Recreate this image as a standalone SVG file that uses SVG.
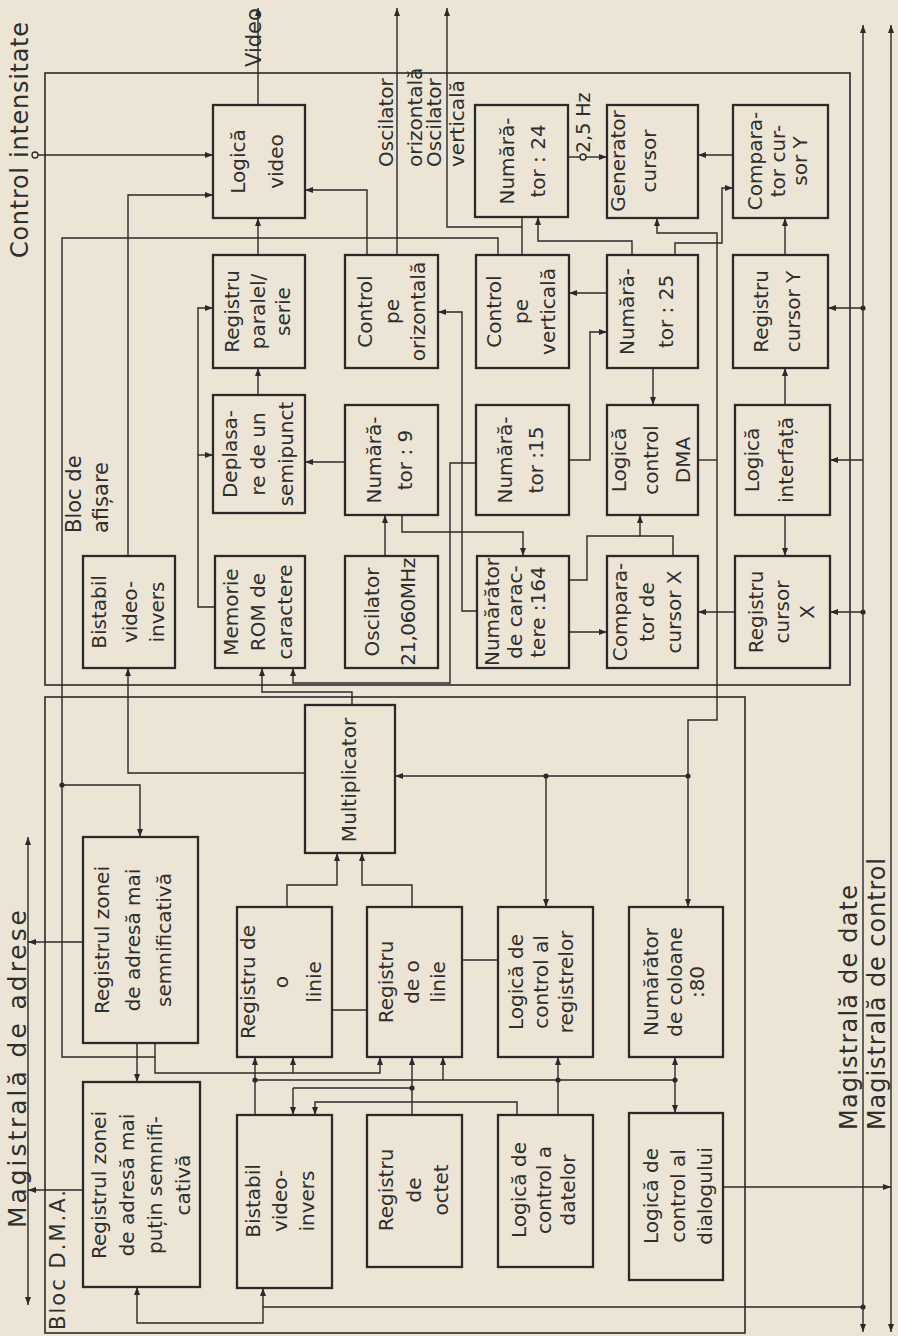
<svg xmlns="http://www.w3.org/2000/svg" width="898" height="1336" viewBox="0 0 898 1336">
<defs>
<style>
.bx{fill:none;stroke:#2a2a2a;stroke-width:2.3}
.t{font-family:"DejaVu Sans","Liberation Sans",sans-serif;font-size:20px;fill:#2e2e2e;text-anchor:middle}
.l{font-family:"DejaVu Sans","Liberation Sans",sans-serif;fill:#2e2e2e;text-anchor:start}
.dot{fill:#2a2a2a;stroke:none}
</style>
<marker id="a" viewBox="0 0 8 6" refX="8" refY="3" markerWidth="8" markerHeight="6" markerUnits="userSpaceOnUse" orient="auto"><path d="M0,0 L8,3 L0,6 z" fill="#2a2a2a"/></marker>
<marker id="as" viewBox="0 0 8 6" refX="8" refY="3" markerWidth="8" markerHeight="6" markerUnits="userSpaceOnUse" orient="auto-start-reverse"><path d="M0,0 L8,3 L0,6 z" fill="#2a2a2a"/></marker>
</defs>
<rect width="898" height="1336" fill="#ece5d5"/>

<!-- enclosures -->
<g id="enclosures" fill="none" stroke="#2a2a2a" stroke-width="1.6">
<rect x="45" y="73" width="805" height="612"/>
<rect x="45" y="697" width="700" height="636"/>
</g>

<!-- labels -->
<g id="labels">
<text class="l" font-size="24" transform="translate(28,258) rotate(-90)" textLength="236">Control intensitate</text>
<circle cx="35" cy="155" r="3" fill="#ece5d5" stroke="#2a2a2a" stroke-width="1.3"/>
<text class="l" font-size="21" transform="translate(261,67) rotate(-90)">Video</text>
<text class="l" font-size="20" transform="translate(393,167) rotate(-90)">Oscilator</text>
<text class="l" font-size="20" transform="translate(422,167) rotate(-90)">orizontală</text>
<text class="l" font-size="20" transform="translate(441,167) rotate(-90)">Oscilator</text>
<text class="l" font-size="20" transform="translate(464,167) rotate(-90)">verticală</text>
<text class="l" font-size="19" transform="translate(590,153) rotate(-90)">2,5 Hz</text>
<text class="l" font-size="21" transform="translate(81,533) rotate(-90)">Bloc de</text>
<text class="l" font-size="21" transform="translate(108,533) rotate(-90)">afișare</text>
<text class="l" font-size="21" transform="translate(65,1330) rotate(-90)" textLength="140">Bloc D.M.A.</text>
<text class="l" font-size="25" transform="translate(26,1228) rotate(-90)" textLength="318">Magistrală de adrese</text>
<text class="l" font-size="24" transform="translate(857,1130) rotate(-90)" textLength="245">Magistrală de date</text>
<text class="l" font-size="24" transform="translate(885,1130) rotate(-90)" textLength="272">Magistrală de control</text>
</g>

<!-- display block nodes -->
<g id="logica-video"><rect class="bx" x="213" y="105" width="92" height="113"/><text class="t" transform="translate(245,161.5) rotate(-90)"><tspan x="0" y="0">Logică</tspan><tspan x="0" y="38">video</tspan></text></g>
<g id="numarator-24"><rect class="bx" x="475" y="105" width="93" height="112"/><text class="t" transform="translate(514,161) rotate(-90)"><tspan x="0" y="0">Numără-</tspan><tspan x="0" y="31">tor : 24</tspan></text></g>
<g id="generator-cursor"><rect class="bx" x="607" y="105" width="91" height="113"/><text class="t" transform="translate(625,161) rotate(-90)"><tspan x="0" y="0">Generator</tspan><tspan x="0" y="31">cursor</tspan></text></g>
<g id="comparator-y"><rect class="bx" x="733" y="105" width="95" height="113"/><text class="t" transform="translate(762,161) rotate(-90)"><tspan x="0" y="0">Compara-</tspan><tspan x="0" y="22.5">tor cur-</tspan><tspan x="0" y="45">sor Y</tspan></text></g>

<g id="registru-paralel"><rect class="bx" x="213" y="255" width="92" height="113"/><text class="t" transform="translate(239,311.5) rotate(-90)"><tspan x="0" y="0">Registru</tspan><tspan x="0" y="25.5">paralel/</tspan><tspan x="0" y="51">serie</tspan></text></g>
<g id="control-orizontala"><rect class="bx" x="345" y="255" width="93" height="113"/><text class="t" transform="translate(372,311.5) rotate(-90)"><tspan x="0" y="0">Control</tspan><tspan x="0" y="26.5">pe</tspan><tspan x="0" y="53">orizontală</tspan></text></g>
<g id="control-verticala"><rect class="bx" x="476" y="255" width="93" height="113"/><text class="t" transform="translate(501,311.5) rotate(-90)"><tspan x="0" y="0">Control</tspan><tspan x="0" y="27">pe</tspan><tspan x="0" y="54">verticală</tspan></text></g>
<g id="numarator-25"><rect class="bx" x="607" y="255" width="91" height="113"/><text class="t" transform="translate(634,311.5) rotate(-90)"><tspan x="0" y="0">Numără-</tspan><tspan x="0" y="39">tor : 25</tspan></text></g>
<g id="registru-cursor-y"><rect class="bx" x="733" y="255" width="95" height="113"/><text class="t" transform="translate(768,311.5) rotate(-90)"><tspan x="0" y="0">Registru</tspan><tspan x="0" y="32">cursor Y</tspan></text></g>

<g id="deplasare"><rect class="bx" x="213" y="395" width="92" height="118"/><text class="t" transform="translate(237,454) rotate(-90)"><tspan x="0" y="0">Deplasa-</tspan><tspan x="0" y="28">re de un</tspan><tspan x="0" y="56">semipunct</tspan></text></g>
<g id="numarator-9"><rect class="bx" x="345" y="405" width="93" height="110"/><text class="t" transform="translate(381,460) rotate(-90)"><tspan x="0" y="0">Numără-</tspan><tspan x="0" y="31">tor : 9</tspan></text></g>
<g id="numarator-15"><rect class="bx" x="476" y="405" width="93" height="110"/><text class="t" transform="translate(512,460) rotate(-90)"><tspan x="0" y="0">Numără-</tspan><tspan x="0" y="31">tor :15</tspan></text></g>
<g id="logica-dma"><rect class="bx" x="607" y="405" width="91" height="110"/><text class="t" transform="translate(626,460) rotate(-90)"><tspan x="0" y="0">Logică</tspan><tspan x="0" y="32">control</tspan><tspan x="0" y="64">DMA</tspan></text></g>
<g id="logica-interfata"><rect class="bx" x="735" y="405" width="95" height="110"/><text class="t" transform="translate(759,460) rotate(-90)"><tspan x="0" y="0">Logică</tspan><tspan x="0" y="34">interfață</tspan></text></g>

<g id="bistabil-1"><rect class="bx" x="83" y="556" width="92" height="112"/><text class="t" transform="translate(106,612) rotate(-90)"><tspan x="0" y="0">Bistabil</tspan><tspan x="0" y="31">video-</tspan><tspan x="0" y="58">invers</tspan></text></g>
<g id="memorie-rom"><rect class="bx" x="215" y="556" width="90" height="112"/><text class="t" transform="translate(238,612) rotate(-90)"><tspan x="0" y="0">Memorie</tspan><tspan x="0" y="27">ROM de</tspan><tspan x="0" y="54">caractere</tspan></text></g>
<g id="oscilator"><rect class="bx" x="345" y="556" width="93" height="112"/><text class="t" transform="translate(379,612) rotate(-90)"><tspan x="0" y="0">Oscilator</tspan><tspan x="0" y="36" letter-spacing="-0.6">21,060MHz</tspan></text></g>
<g id="numarator-caractere"><rect class="bx" x="477" y="556" width="92" height="112"/><text class="t" transform="translate(499,612) rotate(-90)"><tspan x="0" y="0">Numărător</tspan><tspan x="0" y="23">de carac-</tspan><tspan x="0" y="46">tere :164</tspan></text></g>
<g id="comparator-x"><rect class="bx" x="607" y="556" width="91" height="112"/><text class="t" transform="translate(627,612) rotate(-90)"><tspan x="0" y="0">Compara-</tspan><tspan x="0" y="27">tor de</tspan><tspan x="0" y="54">cursor X</tspan></text></g>
<g id="registru-cursor-x"><rect class="bx" x="735" y="556" width="95" height="112"/><text class="t" transform="translate(763,612) rotate(-90)"><tspan x="0" y="0">Registru</tspan><tspan x="0" y="26">cursor</tspan><tspan x="0" y="51">X</tspan></text></g>

<!-- DMA block nodes -->
<g id="multiplicator"><rect class="bx" x="305" y="705" width="90" height="148"/><text class="t" transform="translate(356,780) rotate(-90)">Multiplicator</text></g>
<g id="registrul-mai-semnificativa"><rect class="bx" x="83" y="837" width="115" height="206"/><text class="t" transform="translate(109,940) rotate(-90)"><tspan x="0" y="0">Registrul zonei</tspan><tspan x="0" y="31">de adresă mai</tspan><tspan x="0" y="62">semnificativă</tspan></text></g>
<g id="registrul-putin-semnificativa"><rect class="bx" x="83" y="1082" width="117" height="205"/><text class="t" transform="translate(106,1185) rotate(-90)"><tspan x="0" y="0">Registrul zonei</tspan><tspan x="0" y="28">de adresă mai</tspan><tspan x="0" y="56">puțin semnifi-</tspan><tspan x="0" y="84">cativă</tspan></text></g>
<g id="registru-linie-1"><rect class="bx" x="237" y="907" width="95" height="150"/><text class="t" transform="translate(255,982) rotate(-90)"><tspan x="0" y="0">Registru de</tspan><tspan x="0" y="33">o</tspan><tspan x="0" y="66">linie</tspan></text></g>
<g id="bistabil-2"><rect class="bx" x="237" y="1115" width="95" height="173"/><text class="t" transform="translate(260,1201) rotate(-90)"><tspan x="0" y="0">Bistabil</tspan><tspan x="0" y="27">video-</tspan><tspan x="0" y="54">invers</tspan></text></g>
<g id="registru-linie-2"><rect class="bx" x="367" y="907" width="95" height="150"/><text class="t" transform="translate(393,982) rotate(-90)"><tspan x="0" y="0">Registru</tspan><tspan x="0" y="26">de o</tspan><tspan x="0" y="52">linie</tspan></text></g>
<g id="registru-octet"><rect class="bx" x="367" y="1115" width="95" height="152"/><text class="t" transform="translate(393,1190) rotate(-90)"><tspan x="0" y="0">Registru</tspan><tspan x="0" y="27.5">de</tspan><tspan x="0" y="55">octet</tspan></text></g>
<g id="logica-registre"><rect class="bx" x="498" y="907" width="95" height="150"/><text class="t" transform="translate(523,982) rotate(-90)"><tspan x="0" y="0">Logică de</tspan><tspan x="0" y="25">control al</tspan><tspan x="0" y="50">registrelor</tspan></text></g>
<g id="logica-date"><rect class="bx" x="498" y="1115" width="95" height="152"/><text class="t" transform="translate(526,1190) rotate(-90)"><tspan x="0" y="0">Logică de</tspan><tspan x="0" y="24.5">control a</tspan><tspan x="0" y="49">datelor</tspan></text></g>
<g id="numarator-coloane"><rect class="bx" x="629" y="907" width="94" height="150"/><text class="t" transform="translate(658,982) rotate(-90)"><tspan x="0" y="0">Numărător</tspan><tspan x="0" y="24">de coloane</tspan><tspan x="0" y="46">:80</tspan></text></g>
<g id="logica-dialog"><rect class="bx" x="629" y="1113" width="94" height="167"/><text class="t" transform="translate(658,1196) rotate(-90)"><tspan x="0" y="0">Logică de</tspan><tspan x="0" y="27">control al</tspan><tspan x="0" y="54">dialogului</tspan></text></g>

<!-- connectors -->
<g id="connectors" fill="none" stroke="#2a2a2a" stroke-width="1.4">
<path d="M28,837 V1305" marker-start="url(#as)" marker-end="url(#a)"/>
<path d="M863,25 V1332" marker-start="url(#as)" marker-end="url(#a)"/>
<path d="M891,25 V1332" marker-start="url(#as)" marker-end="url(#a)"/>
<path d="M38,155 H213" marker-end="url(#a)"/>
<path d="M258,105 V8" marker-end="url(#a)"/>
<path d="M128,556 V195 H213" marker-end="url(#a)"/>
<path d="M305,773 H128 V668" marker-end="url(#a)"/>
<path d="M688,776 H395" marker-end="url(#a)"/>
<path d="M546,776 V907" marker-end="url(#a)"/>
<path d="M657,218 V233 H717 V720 H688 V907" marker-start="url(#as)" marker-end="url(#a)"/>
<path d="M258,255 V218" marker-end="url(#a)"/>
<path d="M258,395 V368" marker-end="url(#a)"/>
<path d="M215,607 H198 V308 H213" marker-end="url(#a)"/>
<path d="M198,455 H213" marker-end="url(#a)"/>
<path d="M498,255 V238 H62 V1057 H155"/>
<path d="M62,785 H140 V837" marker-end="url(#a)"/>
<path d="M367,255 V190 H305" marker-end="url(#a)"/>
<path d="M397,255 V8" marker-end="url(#a)"/>
<path d="M522,217 V255"/>
<path d="M522,227 H447 V8" marker-end="url(#a)"/>
<path d="M632,255 V241 H538 V217" marker-end="url(#a)"/>
<path d="M568,157 H580"/>
<path d="M586,157 H607" marker-end="url(#a)"/>
<path d="M733,155 H698" marker-end="url(#a)"/>
<path d="M675,255 V243 H722 V188 H733" marker-end="url(#a)"/>
<path d="M785,255 V218" marker-end="url(#a)"/>
<path d="M785,405 V368" marker-end="url(#a)"/>
<path d="M863,308 H828" marker-end="url(#a)"/>
<path d="M477,611 H462 V312 H438" marker-end="url(#a)"/>
<path d="M477,463 H450 V683 H293 V668" marker-end="url(#a)"/>
<path d="M352,705 V692 H262 V668" marker-end="url(#a)"/>
<path d="M345,462 H305" marker-end="url(#a)"/>
<path d="M385,556 V515" marker-end="url(#a)"/>
<path d="M402,515 V532 H523 V556" marker-end="url(#a)"/>
<path d="M569,460 H590 V332 H607" marker-end="url(#a)"/>
<path d="M607,293 H569" marker-end="url(#a)"/>
<path d="M653,368 V405" marker-end="url(#a)"/>
<path d="M698,460 H717"/>
<path d="M673,556 V536 H640 V515" marker-end="url(#a)"/>
<path d="M569,580 H587 V536 H640"/>
<path d="M569,632 H607" marker-end="url(#a)"/>
<path d="M735,612 H698" marker-end="url(#a)"/>
<path d="M863,612 H830" marker-end="url(#a)"/>
<path d="M785,515 V556" marker-end="url(#a)"/>
<path d="M863,460 H830" marker-end="url(#a)"/>
<path d="M83,942 H28" marker-end="url(#a)"/>
<path d="M83,1190 H28" marker-end="url(#a)"/>
<path d="M137,1043 V1082" marker-end="url(#a)"/>
<path d="M155,1043 V1073 H380 V1057" marker-end="url(#a)"/>
<path d="M293,1073 V1057" marker-end="url(#a)"/>
<path d="M255,1115 V1057" marker-end="url(#a)"/>
<path d="M255,1080 H675"/>
<path d="M443,1080 V1057" marker-end="url(#a)"/>
<path d="M558,1115 V1057" marker-end="url(#a)"/>
<path d="M675,1080 V1057" marker-end="url(#a)"/>
<path d="M675,1080 V1113" marker-end="url(#a)"/>
<path d="M293,1088 H412"/>
<path d="M293,1088 V1115" marker-end="url(#a)"/>
<path d="M412,1115 V1057" marker-end="url(#a)"/>
<path d="M517,1115 V1102 H315 V1115" marker-end="url(#a)"/>
<path d="M332,1010 H367"/>
<path d="M462,960 H498"/>
<path d="M723,1187 H891" marker-end="url(#a)"/>
<path d="M863,1307 H263 V1288" marker-end="url(#a)"/>
<path d="M263,1307 V1323 H137 V1287" marker-end="url(#a)"/>
<path d="M287,907 V885 H337 V853" marker-end="url(#a)"/>
<path d="M412,907 V885 H362 V853" marker-end="url(#a)"/>
<circle cx="583" cy="157" r="3" fill="#ece5d5"/>
</g>
<g id="junctions">
<circle class="dot" cx="62" cy="785" r="2.6"/>
<circle class="dot" cx="546" cy="776" r="2.6"/>
<circle class="dot" cx="688" cy="776" r="2.6"/>
<circle class="dot" cx="863" cy="308" r="2.6"/>
<circle class="dot" cx="863" cy="612" r="2.6"/>
<circle class="dot" cx="255" cy="1080" r="2.6"/>
<circle class="dot" cx="558" cy="1080" r="2.6"/>
<circle class="dot" cx="675" cy="1080" r="2.6"/>
<circle class="dot" cx="412" cy="1088" r="2.6"/>
<circle class="dot" cx="863" cy="1307" r="2.6"/>
</g>
</svg>
